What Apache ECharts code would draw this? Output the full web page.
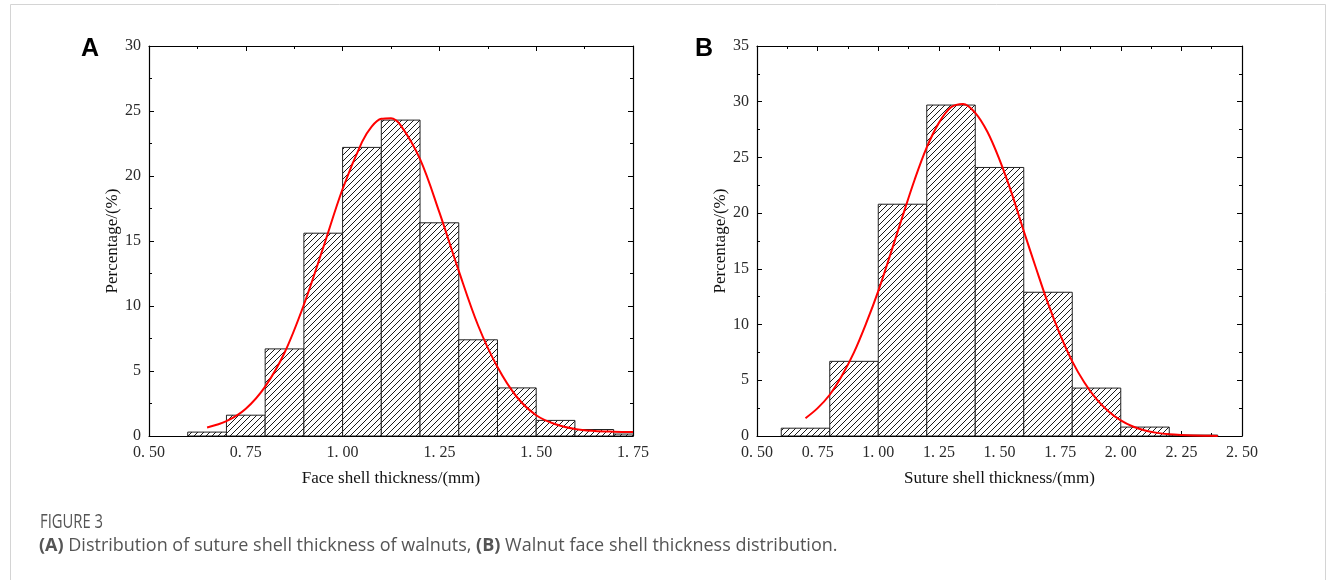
<!DOCTYPE html>
<html>
<head>
<meta charset="utf-8">
<script src="https://cdn.jsdelivr.net/npm/echarts@6/dist/echarts.min.js"></script>
<style>
  html, body { margin: 0; padding: 0; background: #fff; }
  #chart { width: 1330px; height: 580px; }
</style>
</head>
<body>
<div id="chart"></div>
<script>
// Panel A: face shell thickness histogram (bin edges in mm, share in %)
const edgesA = [0.6, 0.7, 0.8, 0.9, 1.0, 1.1, 1.2, 1.3, 1.4, 1.5, 1.6, 1.7, 1.8];
const percentA = [0.3, 1.6, 6.7, 15.6, 22.2, 24.3, 16.4, 7.4, 3.7, 1.2, 0.5, 0.15];
// Fitted distribution curve for panel A
const fitAx = [0.65, 0.70, 0.75, 0.80, 0.85, 0.90, 0.95, 1.00, 1.05, 1.075, 1.10, 1.125, 1.15, 1.20, 1.25, 1.30, 1.35, 1.40, 1.45, 1.50, 1.55, 1.60, 1.65, 1.70, 1.75];
const fitAy = [0.66, 1.14, 2.1, 3.8, 6.4, 10.1, 14.5, 19.0, 22.6, 23.8, 24.4, 24.45, 23.9, 21.3, 17.2, 12.7, 8.5, 5.3, 3.0, 1.6, 0.9, 0.54, 0.39, 0.33, 0.3];

// Panel B: suture shell thickness histogram
const edgesB = [0.6, 0.8, 1.0, 1.2, 1.4, 1.6, 1.8, 2.0, 2.2, 2.4];
const percentB = [0.7, 6.7, 20.8, 29.7, 24.1, 12.9, 4.3, 0.8, 0.08];
// Fitted distribution curve for panel B
const fitBx = [0.70, 0.75, 0.80, 0.85, 0.90, 0.95, 1.00, 1.05, 1.10, 1.15, 1.20, 1.25, 1.30, 1.35, 1.40, 1.45, 1.50, 1.55, 1.60, 1.65, 1.70, 1.75, 1.80, 1.85, 1.90, 1.95, 2.00, 2.05, 2.10, 2.15, 2.20, 2.25, 2.30, 2.35, 2.40];
const fitBy = [1.6, 2.5, 3.7, 5.4, 7.5, 10.1, 13.0, 16.3, 19.7, 23.0, 25.9, 28.1, 29.5, 29.8, 29.0, 27.3, 24.8, 21.8, 18.4, 15.1, 11.9, 9.1, 6.7, 4.8, 3.3, 2.2, 1.4, 0.85, 0.5, 0.28, 0.15, 0.08, 0.04, 0.02, 0.01];

// Axis tick settings
const ticksA = { xMin: 0.5, xMax: 1.75, xStep: 0.25, yMin: 0, yMax: 30, yStep: 5 };
const ticksB = { xMin: 0.5, xMax: 2.5, xStep: 0.25, yMin: 0, yMax: 35, yStep: 5 };

// Diagonal hatch tile used to fill the histogram bars
function hatchTile() {
  const s = 6;
  const c = document.createElement('canvas');
  c.width = s; c.height = s;
  const g = c.getContext('2d');
  g.fillStyle = '#ffffff';
  g.fillRect(0, 0, s, s);
  g.strokeStyle = '#1a1a1a';
  g.lineWidth = 1;
  g.beginPath();
  g.moveTo(-1, s + 1); g.lineTo(s + 1, -1);
  g.moveTo(-1, 1); g.lineTo(1, -1);
  g.moveTo(s - 1, s + 1); g.lineTo(s + 1, s - 1);
  g.stroke();
  return c;
}
const hatch = { image: hatchTile(), repeat: 'repeat' };

const serif = '"Liberation Serif", "DejaVu Serif", serif';
const sans = '"Open Sans", "Noto Sans", sans-serif';
const tickLabel = v => v.toFixed(2).replace('.', '. ');

function xAxes(gi, t, name) {
  const base = {
    type: 'value', gridIndex: gi, min: t.xMin, max: t.xMax, interval: t.xStep,
    axisLine: { show: true, onZero: false, lineStyle: { color: '#000', width: 1.2 } },
    axisTick: { show: true, inside: true, length: 5, lineStyle: { color: '#000' } },
    minorTick: { show: true, splitNumber: 2, length: 3, lineStyle: { color: '#000' } },
    splitLine: { show: false }
  };
  return [
    Object.assign({}, base, {
      position: 'bottom',
      name: name, nameLocation: 'middle', nameGap: 34,
      nameTextStyle: { fontFamily: serif, fontSize: 17, color: '#111' },
      axisLabel: { formatter: tickLabel, fontFamily: serif, fontSize: 16, color: '#2a2a2a', margin: 9 }
    }),
    Object.assign({}, base, { position: 'top', axisLabel: { show: false } })
  ];
}

function yAxes(gi, t) {
  const base = {
    type: 'value', gridIndex: gi, min: t.yMin, max: t.yMax, interval: t.yStep,
    axisLine: { show: true, onZero: false, lineStyle: { color: '#000', width: 1.2 } },
    axisTick: { show: true, inside: true, length: 5, lineStyle: { color: '#000' } },
    minorTick: { show: true, splitNumber: 2, length: 3, lineStyle: { color: '#000' } },
    splitLine: { show: false }
  };
  return [
    Object.assign({}, base, {
      position: 'left',
      name: 'Percentage/(%)', nameLocation: 'middle', nameGap: 28, nameRotate: 90,
      nameTextStyle: { fontFamily: serif, fontSize: 17, color: '#111' },
      axisLabel: { fontFamily: serif, fontSize: 16, color: '#2a2a2a', margin: 8 }
    }),
    Object.assign({}, base, { position: 'right', axisLabel: { show: false } })
  ];
}

function histSeries(xi, yi, edges, values) {
  const data = values.map((v, i) => [edges[i], edges[i + 1], v]);
  return {
    type: 'custom', xAxisIndex: xi, yAxisIndex: yi, clip: true, z: 2,
    data: data,
    encode: { x: [0, 1], y: 2 },
    renderItem: function (params, api) {
      const p0 = api.coord([api.value(0), api.value(2)]);
      const p1 = api.coord([api.value(1), 0]);
      return {
        type: 'rect',
        shape: { x: p0[0], y: p0[1], width: p1[0] - p0[0], height: p1[1] - p0[1] },
        style: { fill: hatch, stroke: '#222', lineWidth: 1 }
      };
    }
  };
}

function fitSeries(xi, yi, xs, ys) {
  return {
    type: 'line', xAxisIndex: xi, yAxisIndex: yi, z: 3,
    data: xs.map((x, i) => [x, ys[i]]),
    smooth: 0.35, showSymbol: false, symbol: 'none',
    lineStyle: { color: '#ff0000', width: 2 }
  };
}

const chart = echarts.init(document.getElementById('chart'), null, { renderer: 'canvas' });
chart.setOption({
  backgroundColor: '#ffffff',
  animation: false,
  grid: [
    { left: 149, top: 46, width: 484, height: 390 },
    { left: 757, top: 46, width: 485, height: 390 }
  ],
  xAxis: [].concat(
    xAxes(0, ticksA, 'Face shell thickness/(mm)'),
    xAxes(1, ticksB, 'Suture shell thickness/(mm)')
  ),
  yAxis: [].concat(yAxes(0, ticksA), yAxes(1, ticksB)),
  series: [
    histSeries(0, 0, edgesA, percentA),
    fitSeries(0, 0, fitAx, fitAy),
    histSeries(2, 2, edgesB, percentB),
    fitSeries(2, 2, fitBx, fitBy)
  ],
  graphic: [
    { type: 'rect', silent: true, z: 0,
      shape: { x: 10.5, y: 4.5, width: 1315, height: 600 },
      style: { fill: 'none', stroke: '#d4d4d4', lineWidth: 1 } },
    { type: 'text', left: 81, top: 37,
      style: { text: 'A', font: 'bold 25px "Liberation Sans", Arial, sans-serif', fill: '#000' } },
    { type: 'text', left: 695, top: 37,
      style: { text: 'B', font: 'bold 25px "Liberation Sans", Arial, sans-serif', fill: '#000' } },
    { type: 'text', x: 40, y: 522, scaleX: 0.74,
      style: { x: 0, y: 0, text: 'FIGURE 3', verticalAlign: 'middle',
               font: '20px ' + sans, fill: '#555' } },
    { type: 'text',
      style: {
        x: 39, y: 546, verticalAlign: 'middle',
        text: '{b|(A)} Distribution of suture shell thickness of walnuts, {b|(B)} Walnut face shell thickness distribution.',
        font: '18px ' + sans, fill: '#555',
        rich: { b: { fontWeight: 'bold', fontSize: 18, fontFamily: sans, fill: '#555' } }
      } }
  ]
});
</script>
</body>
</html>
